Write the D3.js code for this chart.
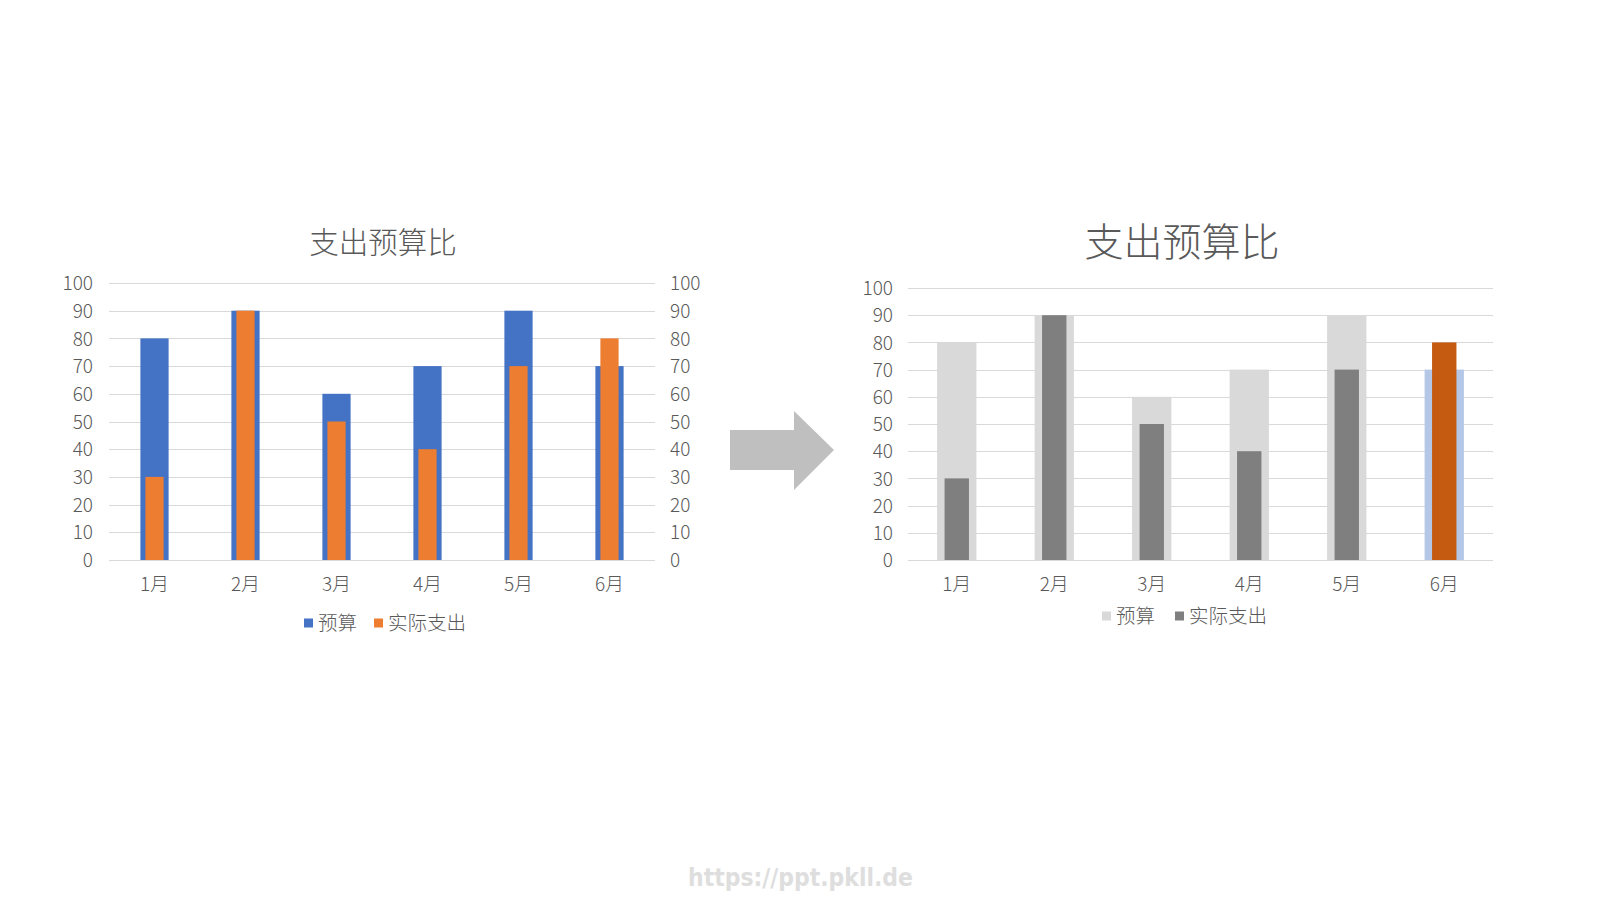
<!DOCTYPE html>
<html>
<head>
<meta charset="utf-8">
<script src="https://cdn.jsdelivr.net/npm/d3@7"></script>
<style>
  html, body { margin: 0; padding: 0; background: #fff; }
  svg { display: block; }
  text { font-family: "Noto Sans CJK SC", "DejaVu Sans", sans-serif; fill: #595959; font-weight: 300; }
</style>
</head>
<body>
<script>
var months = ["1月", "2月", "3月", "4月", "5月", "6月"];
var budget = [80, 90, 60, 70, 90, 70];
var actual = [30, 90, 50, 40, 70, 80];
var yTicks = [0, 10, 20, 30, 40, 50, 60, 70, 80, 90, 100];
var seriesNames = ["预算", "实际支出"];

var width = 1600,
    height = 900;

var svg = d3.select("body")
    .append("svg")
    .attr("width", width)
    .attr("height", height);

function drawChart(opt) {
    var x = d3.scaleBand()
        .domain(months)
        .range([opt.x0, opt.x1]);

    var y = d3.scaleLinear()
        .domain([0, 100])
        .range([opt.yBottom, opt.yTop]);

    var g = svg.append("g");

    // title
    g.append("text")
        .attr("x", opt.titleX)
        .attr("y", opt.titleY)
        .attr("text-anchor", "middle")
        .style("font-size", opt.titleSize + "px")
        .text("支出预算比");

    // gridlines
    g.selectAll(".grid")
        .data(yTicks)
        .enter().append("line")
        .attr("x1", opt.x0)
        .attr("x2", opt.x1)
        .attr("y1", function(d) { return Math.round(y(d)) + 0.5; })
        .attr("y2", function(d) { return Math.round(y(d)) + 0.5; })
        .attr("stroke", "#d9d9d9")
        .attr("stroke-width", 1);

    // left axis
    var left = g.append("g")
        .attr("transform", "translate(" + opt.leftLabelX + ",0)")
        .call(d3.axisLeft(y).tickValues(yTicks).tickSize(0).tickPadding(0));
    left.select(".domain").remove();
    left.selectAll("text")
        .style("font-size", "19px")
        .attr("fill", "#595959")
        .attr("font-family", "Noto Sans CJK SC")
        .attr("dy", "0.35em");

    if (opt.rightAxis) {
        var right = g.append("g")
            .attr("transform", "translate(" + opt.rightLabelX + ",0)")
            .call(d3.axisRight(y).tickValues(yTicks).tickSize(0).tickPadding(0));
        right.select(".domain").remove();
        right.selectAll("text")
            .style("font-size", "19px")
            .attr("fill", "#595959")
            .attr("font-family", "Noto Sans CJK SC")
            .attr("dy", "0.35em");
    }

    // category labels
    var bottom = g.append("g")
        .attr("transform", "translate(0," + opt.yBottom + ")")
        .call(d3.axisBottom(x).tickSize(0).tickPadding(0));
    bottom.select(".domain").remove();
    bottom.selectAll("text")
        .style("font-size", "19px")
        .attr("fill", "#595959")
        .attr("font-family", "Noto Sans CJK SC")
        .attr("dy", null)
        .attr("y", 31);

    var bw = x.bandwidth() * opt.budgetRatio;
    var aw = x.bandwidth() * opt.actualRatio;

    g.selectAll(".budget")
        .data(months)
        .enter().append("rect")
        .attr("x", function(d) { return x(d) + (x.bandwidth() - bw) / 2; })
        .attr("y", function(d, i) { return y(budget[i]); })
        .attr("width", bw)
        .attr("height", function(d, i) { return y(0) - y(budget[i]); })
        .attr("fill", function(d, i) { return opt.budgetColor(i); });

    g.selectAll(".actual")
        .data(months)
        .enter().append("rect")
        .attr("x", function(d) { return x(d) + (x.bandwidth() - aw) / 2; })
        .attr("y", function(d, i) { return y(actual[i]); })
        .attr("width", aw)
        .attr("height", function(d, i) { return y(0) - y(actual[i]); })
        .attr("fill", function(d, i) { return opt.actualColor(i); });

    // legend
    var lg = g.append("g")
        .attr("transform", "translate(" + opt.legendX + "," + opt.legendY + ")");
    var offs = [0, opt.legendGap];
    seriesNames.forEach(function(name, i) {
        lg.append("rect")
            .attr("x", offs[i])
            .attr("y", -4.5)
            .attr("width", 9)
            .attr("height", 9)
            .attr("fill", opt.legendColors[i]);
        lg.append("text")
            .attr("x", offs[i] + 14)
            .attr("y", 0)
            .attr("dy", "0.35em")
            .style("font-size", "19.5px")
            .text(name);
    });
}

// original chart
drawChart({
    x0: 109, x1: 655, yTop: 283, yBottom: 560,
    titleX: 383, titleY: 253, titleSize: 29.5,
    leftLabelX: 93, rightAxis: true, rightLabelX: 670,
    budgetRatio: 0.31, actualRatio: 0.2,
    budgetColor: function() { return "#4472c4"; },
    actualColor: function() { return "#ed7d31"; },
    legendX: 304, legendY: 623, legendGap: 70,
    legendColors: ["#4472c4", "#ed7d31"]
});

// improved chart: highlight months where actual exceeds budget
drawChart({
    x0: 908, x1: 1493, yTop: 288, yBottom: 560,
    titleX: 1182, titleY: 256, titleSize: 39,
    leftLabelX: 893, rightAxis: false,
    budgetRatio: 0.403, actualRatio: 0.25,
    budgetColor: function(i) { return actual[i] > budget[i] ? "#b4c7e7" : "#d9d9d9"; },
    actualColor: function(i) { return actual[i] > budget[i] ? "#c55a11" : "#7f7f7f"; },
    legendX: 1102, legendY: 616, legendGap: 73,
    legendColors: ["#d9d9d9", "#7f7f7f"]
});

// arrow between the charts
svg.append("path")
    .attr("d", "M730,430 L794,430 L794,411 L834,450 L794,490 L794,470 L730,470 Z")
    .attr("fill", "#bfbfbf");

// watermark
svg.append("text")
    .attr("x", 688)
    .attr("y", 886)
    .attr("textLength", 225)
    .attr("lengthAdjust", "spacingAndGlyphs")
    .style("font-family", "DejaVu Sans")
    .style("font-weight", "bold")
    .style("font-size", "24px")
    .style("fill", "#dedede")
    .text("https://ppt.pkll.de");
</script>
</body>
</html>
